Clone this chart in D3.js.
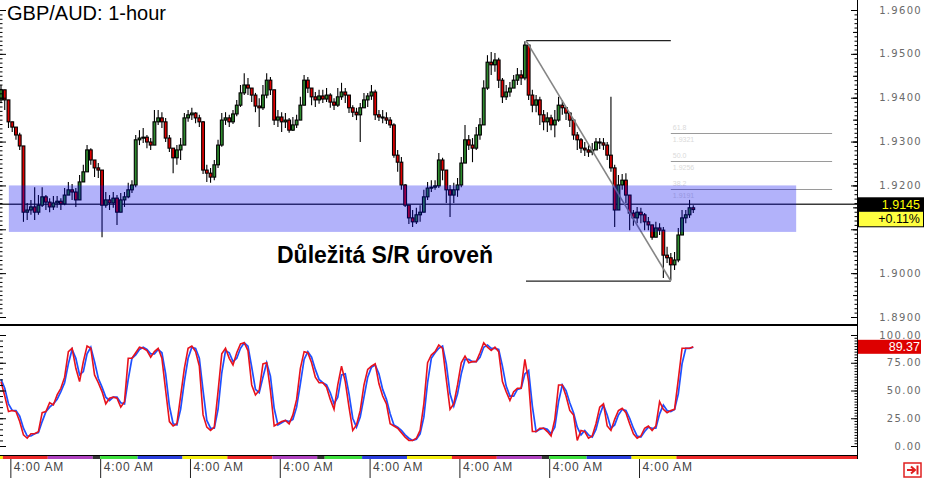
<!DOCTYPE html>
<html><head><meta charset="utf-8">
<script src="https://cdn.jsdelivr.net/npm/d3@7"></script>
<style>html,body{margin:0;padding:0;background:#fff;overflow:hidden}svg{display:block;font-family:"Liberation Sans",Arial,sans-serif}</style>
</head><body><svg id="c" width="925" height="478"></svg>
<script>
// ---------- DATA ----------
const open=[
1.9395,1.9418,1.9395,1.9345,1.9333,1.9315,1.9290,1.9139,1.9144,1.9151,
1.9139,1.9155,1.9174,1.9162,1.9151,1.9160,1.9164,1.9158,1.9178,1.9190,
1.9185,1.9167,1.9208,1.9231,1.9281,1.9258,1.9240,1.9235,1.9155,1.9167,
1.9160,1.9171,1.9139,1.9167,1.9174,1.9190,1.9201,1.9304,1.9308,1.9310,
1.9299,1.9292,1.9345,1.9354,1.9345,1.9308,1.9285,1.9263,1.9281,1.9292,
1.9354,1.9361,1.9365,1.9354,1.9345,1.9235,1.9228,1.9219,1.9247,1.9292,
1.9349,1.9354,1.9345,1.9363,1.9383,1.9411,1.9429,1.9422,1.9406,1.9381,
1.9377,1.9406,1.9440,1.9418,1.9349,1.9356,1.9345,1.9349,1.9326,1.9338,
1.9349,1.9383,1.9440,1.9422,1.9402,1.9395,1.9404,1.9397,1.9406,1.9390,
1.9383,1.9402,1.9413,1.9406,1.9377,1.9367,1.9361,1.9377,1.9395,1.9404,
1.9413,1.9361,1.9356,1.9354,1.9349,1.9338,1.9269,1.9253,1.9201,1.9155,
1.9126,1.9117,1.9133,1.9139,1.9174,1.9194,1.9196,1.9199,1.9258,1.9235,
1.9190,1.9178,1.9190,1.9201,1.9251,1.9304,1.9292,1.9285,1.9315,1.9338,
1.9422,1.9481,1.9475,1.9486,1.9440,1.9402,1.9413,1.9422,1.9440,1.9452,
1.9445,1.9520,1.9406,1.9383,1.9395,1.9361,1.9345,1.9354,1.9338,1.9349,
1.9383,1.9377,1.9365,1.9349,1.9315,1.9304,1.9285,1.9281,1.9276,1.9281,
1.9299,1.9297,1.9292,1.9269,1.9240,1.9144,1.9201,1.9212,1.9178,1.9137,
1.9126,1.9139,1.9133,1.9117,1.9110,1.9082,1.9103,1.9098,1.9041,1.9035,
1.9019,1.9030,1.9087,1.9126,1.9133,1.9149];
const high=[
1.9429,1.9411,1.9354,1.9345,1.9331,1.9320,1.9290,1.9160,1.9167,1.9196,
1.9178,1.9196,1.9178,1.9171,1.9176,1.9176,1.9171,1.9194,1.9208,1.9203,
1.9194,1.9224,1.9247,1.9292,1.9285,1.9258,1.9251,1.9235,1.9185,1.9178,
1.9185,1.9178,1.9183,1.9185,1.9206,1.9212,1.9315,1.9326,1.9331,1.9315,
1.9308,1.9372,1.9372,1.9367,1.9354,1.9315,1.9285,1.9292,1.9308,1.9365,
1.9372,1.9377,1.9367,1.9361,1.9347,1.9247,1.9240,1.9258,1.9304,1.9365,
1.9367,1.9361,1.9372,1.9395,1.9429,1.9456,1.9445,1.9422,1.9411,1.9399,
1.9429,1.9456,1.9447,1.9418,1.9372,1.9367,1.9365,1.9354,1.9356,1.9361,
1.9402,1.9452,1.9447,1.9422,1.9413,1.9418,1.9418,1.9422,1.9410,1.9399,
1.9422,1.9434,1.9422,1.9406,1.9383,1.9377,1.9388,1.9411,1.9411,1.9429,
1.9418,1.9372,1.9372,1.9367,1.9356,1.9342,1.9281,1.9265,1.9203,1.9155,
1.9144,1.9149,1.9155,1.9190,1.9208,1.9212,1.9212,1.9274,1.9263,1.9235,
1.9201,1.9206,1.9217,1.9265,1.9338,1.9315,1.9308,1.9333,1.9354,1.9440,
1.9497,1.9504,1.9502,1.9491,1.9445,1.9429,1.9436,1.9452,1.9468,1.9463,
1.9529,1.9522,1.9418,1.9406,1.9402,1.9372,1.9367,1.9361,1.9372,1.9402,
1.9395,1.9379,1.9367,1.9352,1.9322,1.9308,1.9299,1.9292,1.9297,1.9308,
1.9308,1.9308,1.9299,1.9402,1.9247,1.9224,1.9226,1.9228,1.9178,1.9144,
1.9151,1.9149,1.9137,1.9128,1.9110,1.9117,1.9114,1.9105,1.9060,1.9046,
1.9048,1.9103,1.9144,1.9144,1.9167,1.9155];
const low=[
1.9388,1.9372,1.9331,1.9322,1.9304,1.9281,1.9117,1.9121,1.9133,1.9121,
1.9133,1.9151,1.9144,1.9139,1.9144,1.9149,1.9144,1.9155,1.9178,1.9167,
1.9151,1.9167,1.9208,1.9240,1.9247,1.9219,1.9217,1.9082,1.9149,1.9144,
1.9149,1.9110,1.9144,1.9151,1.9171,1.9183,1.9196,1.9292,1.9297,1.9285,
1.9281,1.9292,1.9338,1.9331,1.9299,1.9276,1.9228,1.9247,1.9258,1.9292,
1.9345,1.9349,1.9342,1.9333,1.9226,1.9208,1.9206,1.9212,1.9240,1.9288,
1.9338,1.9333,1.9340,1.9358,1.9379,1.9406,1.9406,1.9390,1.9367,1.9333,
1.9372,1.9399,1.9406,1.9338,1.9333,1.9322,1.9331,1.9320,1.9324,1.9331,
1.9349,1.9395,1.9411,1.9383,1.9379,1.9386,1.9388,1.9390,1.9377,1.9372,
1.9379,1.9395,1.9388,1.9365,1.9356,1.9349,1.9299,1.9377,1.9379,1.9395,
1.9349,1.9347,1.9342,1.9340,1.9331,1.9263,1.9231,1.9190,1.9151,1.9112,
1.9105,1.9112,1.9117,1.9144,1.9167,1.9185,1.9190,1.9194,1.9212,1.9160,
1.9128,1.9160,1.9174,1.9196,1.9258,1.9281,1.9253,1.9281,1.9304,1.9338,
1.9418,1.9452,1.9459,1.9422,1.9388,1.9395,1.9402,1.9422,1.9429,1.9429,
1.9440,1.9395,1.9367,1.9367,1.9338,1.9326,1.9322,1.9326,1.9310,1.9345,
1.9361,1.9349,1.9333,1.9304,1.9281,1.9274,1.9267,1.9265,1.9269,1.9281,
1.9283,1.9281,1.9258,1.9231,1.9105,1.9167,1.9190,1.9160,1.9098,1.9108,
1.9114,1.9114,1.9098,1.9098,1.9076,1.9087,1.9087,1.8989,1.9023,1.8984,
1.9007,1.9025,1.9087,1.9114,1.9126,1.9137];
const close=[
1.9418,1.9395,1.9345,1.9333,1.9315,1.9290,1.9139,1.9144,1.9151,1.9139,
1.9155,1.9174,1.9162,1.9151,1.9160,1.9164,1.9158,1.9178,1.9190,1.9185,
1.9167,1.9208,1.9231,1.9281,1.9258,1.9240,1.9235,1.9155,1.9167,1.9160,
1.9171,1.9139,1.9167,1.9174,1.9190,1.9201,1.9304,1.9308,1.9310,1.9299,
1.9292,1.9345,1.9354,1.9345,1.9308,1.9285,1.9263,1.9281,1.9292,1.9354,
1.9361,1.9365,1.9354,1.9345,1.9235,1.9228,1.9219,1.9247,1.9292,1.9349,
1.9354,1.9345,1.9363,1.9383,1.9411,1.9429,1.9422,1.9406,1.9381,1.9377,
1.9406,1.9440,1.9418,1.9349,1.9356,1.9345,1.9349,1.9326,1.9338,1.9349,
1.9383,1.9440,1.9422,1.9402,1.9395,1.9404,1.9397,1.9406,1.9390,1.9383,
1.9402,1.9413,1.9406,1.9377,1.9367,1.9361,1.9377,1.9395,1.9404,1.9413,
1.9361,1.9356,1.9354,1.9349,1.9338,1.9269,1.9253,1.9201,1.9155,1.9126,
1.9117,1.9133,1.9139,1.9174,1.9194,1.9196,1.9199,1.9258,1.9235,1.9190,
1.9178,1.9190,1.9201,1.9251,1.9304,1.9292,1.9285,1.9315,1.9338,1.9422,
1.9481,1.9475,1.9486,1.9440,1.9402,1.9413,1.9422,1.9440,1.9452,1.9445,
1.9520,1.9406,1.9383,1.9395,1.9361,1.9345,1.9354,1.9338,1.9349,1.9383,
1.9377,1.9365,1.9349,1.9315,1.9304,1.9285,1.9281,1.9276,1.9281,1.9299,
1.9297,1.9292,1.9269,1.9240,1.9144,1.9201,1.9212,1.9178,1.9137,1.9126,
1.9139,1.9133,1.9117,1.9110,1.9082,1.9103,1.9098,1.9041,1.9035,1.9019,
1.9030,1.9087,1.9126,1.9133,1.9149,1.9145];
// stochastic oscillator (red and blue lines)
const stochRed=[58,45,31,32,31,22,10,7,11,11,
13,30,31,39,37,46,52,62,85,88,
70,58,76,90,88,64,57,49,38,43,
44,43,35,40,79,79,84,89,88,86,
80,85,88,79,50,22,18,20,45,70,
88,90,85,72,28,17,14,17,49,83,
88,79,73,84,92,93,86,55,46,50,
74,75,50,18,20,22,23,20,28,42,
70,85,84,75,62,57,57,53,42,33,
55,72,58,35,14,19,32,55,69,72,
74,56,45,38,20,18,16,12,8,5,
5,7,14,38,75,82,85,91,88,60,
33,38,55,75,81,75,76,76,84,93,
89,86,89,85,58,49,41,49,52,52,
78,58,13,13,16,16,13,9,24,55,
55,45,32,28,5,14,13,7,9,20,
35,38,18,14,24,32,34,30,20,11,
7,9,16,18,14,18,40,33,30,32,
33,60,88,88,88,89.37];
const stochBlue=[60,52,38,32,32,27,16,9,9,11,
12,22,31,35,38,42,49,57,74,87,
79,64,67,83,89,76,61,53,44,41,
44,44,39,38,60,79,82,87,89,87,
83,83,87,84,65,36,20,19,33,58,
79,89,88,79,50,23,16,16,33,66,
86,84,76,79,88,93,90,71,51,48,
62,75,63,34,19,21,23,22,24,35,
56,78,85,80,69,60,57,55,48,38,
44,64,65,47,25,17,26,44,62,71,
73,65,51,42,29,19,17,14,10,7,
5,6,11,26,57,79,84,88,90,74,
47,36,47,65,78,78,76,76,80,89,
91,88,88,87,72,54,45,45,51,52,
65,68,36,13,15,16,15,11,17,40,
55,50,39,30,17,10,14,10,8,15,
28,37,28,16,19,28,33,32,25,16,
9,8,13,17,16,16,29,37,32,31,
33,47,74,88,88,89];
const priceTicks=[1.89,1.90,1.91,1.92,1.93,1.94,1.95,1.96];
const priceLabelTicks=[1.89,1.90,1.92,1.93,1.94,1.95,1.96];
const stochTicks=[0,25,50,75,100];
const timeTickHours=[4,28,52,76,100,124,148,172];
const timeTickLabels=["4:00 AM","4:00 AM","4:00 AM","4:00 AM","4:00 AM","4:00 AM","4:00 AM","4:00 AM"];
const sessionStarts=[-3,2,14,26,28,38,50,62,74,86,88,98,110,122,134,146,148,158,170,182];
const sessionEnds=[2,14,26,28,38,50,62,74,86,88,98,110,122,134,146,148,158,170,182,232];
const sessionColors=["#f5ee10","#ee2a2a","#b042c0","#333333","#3ee03e","#2a3fe0","#f5ee10","#ee2a2a","#b042c0","#333333","#3ee03e","#2a3fe0","#f5ee10","#ee2a2a","#b042c0","#333333","#3ee03e","#2a3fe0","#f5ee10","#ee2a2a"];
const zoneHours=[3.6,214], zonePrices=[1.9094,1.9200];
const zoneLabel="Důležitá S/R úroveň";
const fibHours=[141.8,180.5], fibPrices=[1.9530,1.8982], fibLevels=[0.382,0.5,0.618], fibExtendHour=223.6;
const priceLineLevel=1.9157, lastPriceText="1.9145", changeText="+0.11%", stochLast=89.37;
const title="GBP/AUD: 1-hour";

// ---------- SCALES ----------
const svg=d3.select("#c");
const AX=857;
const x=d3.scaleLinear().domain([1.5,186.5]).range([1,1+3.742*185]);
const y=d3.scaleLinear().domain([1.89,1.96]).range([317,10]);
const ys=d3.scaleLinear().domain([0,100]).range([446,335]);
const cx=i=>x(i+1.5);

svg.append("rect").attr("width",925).attr("height",478).attr("fill","#fff");
const defs=svg.append("defs");
defs.append("clipPath").attr("id","mainClip").append("rect").attr("x",0).attr("y",0).attr("width",AX).attr("height",323);
defs.append("clipPath").attr("id","stClip").append("rect").attr("x",0).attr("y",327).attr("width",AX).attr("height",127);

// ---------- MAIN PANEL ----------
const main=svg.append("g").attr("clip-path","url(#mainClip)");
main.append("line").attr("x1",0).attr("x2",AX).attr("y1",y(priceLineLevel)).attr("y2",y(priceLineLevel))
  .attr("stroke","#3a3a3a").attr("stroke-width",1.5);
const fibRange=fibPrices[0]-fibPrices[1];
fibLevels.forEach(l=>{
  const p=fibPrices[1]+fibRange*l, yy=Math.round(y(p))+0.5;
  main.append("line").attr("x1",x(fibHours[1])).attr("x2",x(fibExtendHour)).attr("y1",yy).attr("y2",yy)
    .attr("stroke","#9a9a9a").attr("stroke-width",1.2);
  main.append("text").attr("x",x(fibHours[1])+2).attr("y",yy-4).attr("font-size",7).attr("fill","#dadada").text((l*100).toFixed(1));
  main.append("text").attr("x",x(fibHours[1])+2).attr("y",yy+8).attr("font-size",7).attr("fill","#dadada").text(p.toFixed(4));
});
main.append("line").attr("x1",x(fibHours[0])).attr("x2",x(fibHours[1])).attr("y1",y(fibPrices[0])).attr("y2",y(fibPrices[0])).attr("stroke","#222").attr("stroke-width",1.2);
main.append("line").attr("x1",x(fibHours[0])).attr("x2",x(fibHours[1])).attr("y1",y(fibPrices[1])).attr("y2",y(fibPrices[1])).attr("stroke","#222").attr("stroke-width",1.2);

// candles
const cg=main.append("g");
close.forEach((c,i)=>{
  const o=open[i], X=cx(i);
  const top=Math.max(o,c), bot=Math.min(o,c);
  cg.append("line").attr("x1",X).attr("x2",X).attr("y1",y(Math.max(high[i],top))).attr("y2",y(Math.min(low[i],bot)))
    .attr("stroke","#000").attr("stroke-width",1.1);
  const h=Math.max(1,y(bot)-y(top));
  cg.append("rect").attr("x",X-1.4).attr("y",y(top)).attr("width",2.8).attr("height",h)
    .attr("fill",c>=o?"#2e8b2e":"#e00000").attr("stroke","#000").attr("stroke-width",1.1);
});
main.append("line").attr("x1",x(fibHours[0])).attr("x2",x(fibHours[1])).attr("y1",y(fibPrices[0])).attr("y2",y(fibPrices[1]))
  .attr("stroke","#858585").attr("stroke-width",1.6);
main.append("rect").attr("x",x(zoneHours[0])).attr("width",x(zoneHours[1])-x(zoneHours[0]))
  .attr("y",y(zonePrices[1])).attr("height",y(zonePrices[0])-y(zonePrices[1]))
  .attr("fill","rgb(0,0,240)").attr("fill-opacity",0.3);
main.append("text").attr("x",277).attr("y",263).attr("font-size",23).attr("font-weight","bold").attr("fill","#000").text(zoneLabel);
main.append("text").attr("x",7).attr("y",20).attr("font-size",20).attr("fill","#000").text(title);

// ---------- STOCH PANEL ----------
const st=svg.append("g").attr("clip-path","url(#stClip)");
const ln=arr=>d3.line().x((d,i)=>cx(i)).y(d=>ys(d))(arr);
st.append("path").attr("d",ln(stochBlue)).attr("fill","none").attr("stroke","#1e50ff").attr("stroke-width",1.7);
st.append("path").attr("d",ln(stochRed)).attr("fill","none").attr("stroke","#e8121c").attr("stroke-width",1.6);

// ---------- FRAMES ----------
svg.append("line").attr("x1",0).attr("x2",AX).attr("y1",325).attr("y2",325).attr("stroke","#000").attr("stroke-width",2);
svg.append("line").attr("x1",0).attr("x2",AX).attr("y1",455.5).attr("y2",455.5).attr("stroke","#000").attr("stroke-width",1);
svg.append("line").attr("x1",AX+0.5).attr("x2",AX+0.5).attr("y1",0).attr("y2",459).attr("stroke","#000").attr("stroke-width",1);

function tickAxis(scale,vals,size,tx,dir){
  const a=(dir==="left"?d3.axisLeft(scale):d3.axisRight(scale)).tickValues(vals).tickSize(size).tickFormat("");
  const g=svg.append("g").attr("transform",`translate(${tx},0)`).call(a);
  g.select(".domain").remove();
  g.selectAll("line").attr("stroke","#000");
}
const minorP=d3.range(0,71).map(k=>1.89+k*0.001);
const midP=d3.range(0,15).map(k=>1.89+k*0.005);
tickAxis(y,minorP,2.5,AX,"left");tickAxis(y,midP,4,AX,"left");tickAxis(y,priceTicks,6,AX,"left");
tickAxis(y,minorP,2.5,0,"right");tickAxis(y,priceTicks,6,0,"right");
const minorS=d3.range(0,41).map(k=>k*2.5);
tickAxis(ys,minorS,2.5,AX,"left");tickAxis(ys,stochTicks,6,AX,"left");
tickAxis(ys,d3.range(0,21).map(k=>k*5),3,0,"right");tickAxis(ys,stochTicks,6,0,"right");

const lab=svg.append("g").attr("font-family","'DejaVu Sans',sans-serif").attr("font-size",10).attr("fill","#6a6a6a").attr("letter-spacing","1.3px");
priceLabelTicks.forEach(p=>lab.append("text").attr("x",922).attr("y",y(p)+3.5).attr("text-anchor","end").text(p.toFixed(4)));
stochTicks.forEach(v=>lab.append("text").attr("x",922).attr("y",ys(v)+3.5).attr("text-anchor","end").text(v.toFixed(2)));

const py=y(priceLineLevel);
svg.append("rect").attr("x",AX+1).attr("y",py-7).attr("width",66).attr("height",14).attr("fill","#000");
svg.append("text").attr("x",920).attr("y",py+4.5).attr("text-anchor","end").attr("font-size",12.5).attr("fill","#ffff00").text(lastPriceText);
svg.append("rect").attr("x",AX+1.5).attr("y",py+7).attr("width",65).attr("height",15.5).attr("fill","#ffff40").attr("stroke","#000").attr("stroke-width",1);
svg.append("text").attr("x",920).attr("y",py+19).attr("text-anchor","end").attr("font-size",12.5).attr("fill","#000").text(changeText);
svg.append("rect").attr("x",AX+1).attr("y",ys(stochLast)-7).attr("width",63).attr("height",14).attr("fill","#dd0000");
svg.append("text").attr("x",920).attr("y",ys(stochLast)+4.5).attr("text-anchor","end").attr("font-size",12.5).attr("fill","#fff").text(stochLast.toFixed(2));

// ---------- TIME AXIS ----------
const sg=svg.append("g");
sessionStarts.forEach((s,i)=>{
  const x0=Math.max(0,x(s)), x1=Math.min(AX,x(sessionEnds[i]));
  if(x1>x0) sg.append("rect").attr("x",x0).attr("y",456).attr("width",x1-x0).attr("height",3).attr("fill",sessionColors[i]);
});
const xa=d3.axisBottom(x).tickValues(timeTickHours).tickSize(19).tickFormat((d,i)=>timeTickLabels[i]);
const xg=svg.append("g").attr("transform","translate(0,459)").call(xa);
xg.select(".domain").remove();
xg.selectAll("line").attr("stroke","#222");
xg.selectAll("text").attr("x",3).attr("y",8).attr("dy","0.32em").attr("text-anchor","start")
  .attr("font-family","'Liberation Sans',Arial,sans-serif").attr("font-size",12).attr("letter-spacing","0.9px").attr("fill","#444");

svg.append("rect").attr("x",904).attr("y",463).attr("width",17).attr("height",14).attr("fill","#fff").attr("stroke","#e02020").attr("stroke-width",1.5);
svg.append("path").attr("d","M907,470 L914,470 M911,466.5 L915,470 L911,473.5").attr("stroke","#e02020").attr("stroke-width",2).attr("fill","none");
svg.append("line").attr("x1",917.5).attr("x2",917.5).attr("y1",465.5).attr("y2",474.5).attr("stroke","#e02020").attr("stroke-width",2);
</script></body></html>
